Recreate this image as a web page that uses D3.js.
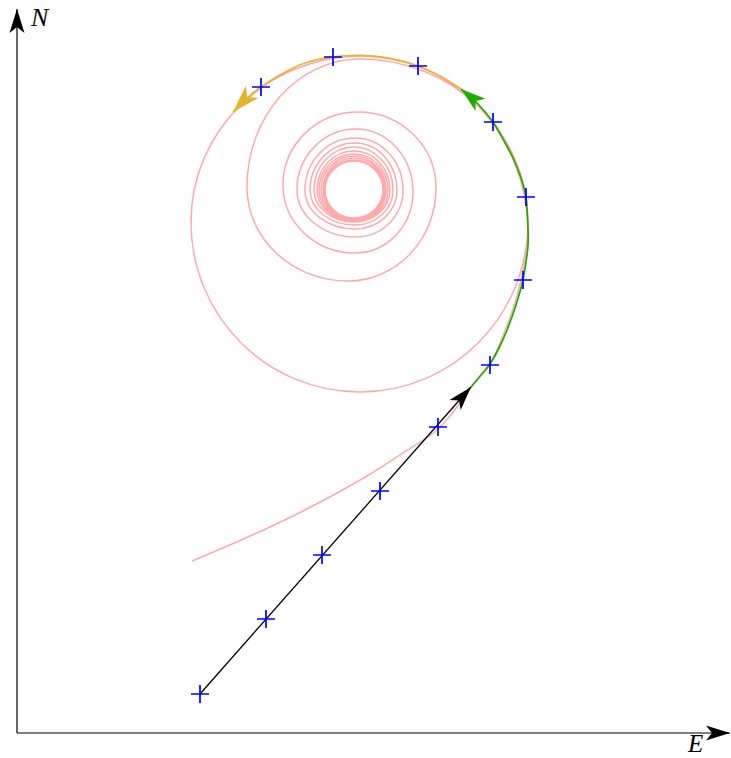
<!DOCTYPE html>
<html>
<head>
<meta charset="utf-8">
<script src="https://cdn.jsdelivr.net/npm/d3@7"></script>
<style>
  html, body { margin: 0; padding: 0; background: #fff; }
  svg { display: block; }
</style>
</head>
<body>
<div id="chart"></div>
<script>
// all positions in plot units: E east, N north (origin at axis corner)
const axisEnd = { E: 713, N: 724 };

const straightLeg = [[183, 39], [454, 346]];
const straightFixes = [[183, 39], [249, 114], [305, 178], [363, 242], [421, 306]];

const greenLeg = [[454, 346], [464, 358], [473, 369], [482, 385], [490, 403], [497, 422],
  [502, 438], [506, 453], [509, 471], [511, 488], [511, 506], [510, 523], [509, 536],
  [504, 555], [496, 575], [486, 594], [476, 611], [461, 629], [444, 644]];
const greenFixes = [[473, 368], [506, 453], [509, 536], [476, 611]];

const orangeLeg = [[444, 644], [423, 657], [401, 667], [373, 674.5], [345, 677.5], [316, 676],
  [288, 670], [263, 658], [244, 646], [228, 633], [216, 621]];
const orangeFixes = [[401, 667], [316, 676], [244, 646]];

// pink track: tail coming in, then the turns
const spiralTail = [[175, 172], [215, 189], [253, 206], [288, 223], [320, 240], [355, 260],
  [386, 280], [420, 303], [440, 326], [455, 347], [473, 369], [489, 405], [500, 437],
  [507, 468], [511, 501]];

// extremes of each quarter turn: right, top, left, bottom, right, ...
const spiralTurns = [
  [511, 501], [345, 677], [174, 511], [343, 341],
  [511, 511], [343, 674], [230, 546], [331, 452],
  [419, 545], [341, 621], [266, 548], [338, 480],
  [396, 541], [339, 604], [280, 543], [339, 496],
  [386, 543], [338, 595], [288, 543], [338, 504],
  [380, 543], [338, 590], [293, 543], [338, 508],
  [376, 543], [337, 586], [297, 543], [337, 511],
  [373, 543], [337, 582], [300, 543], [337, 512],
  [371, 543], [337, 579], [302, 543], [337, 513],
  [369, 543], [337, 577], [304, 543], [337, 514],
  [368, 543], [337, 575], [306, 543], [337, 514],
  [367, 543], [337, 573], [307, 543], [337, 515],
  [366, 543], [337, 572], [308, 543], [337, 515],
  [366, 543]
];

const width = 731, height = 758;

const svg = d3.select('#chart')
  .append('svg')
    .attr('width', width)
    .attr('height', height);

const x = d3.scaleLinear().domain([0, 714]).range([17, 731]);
const y = d3.scaleLinear().domain([0, 725]).range([733, 8]);

const defs = svg.append('defs');
function arrow(id, color, size) {
  const l = 24 * size, w = 7.5 * size, n = 18 * size;
  defs.append('marker')
    .attr('id', id)
    .attr('viewBox', (-l - 2) + ' ' + (-w - 2) + ' ' + (l + 4) + ' ' + (2 * w + 4))
    .attr('markerWidth', l + 4)
    .attr('markerHeight', 2 * w + 4)
    .attr('refX', 0)
    .attr('refY', 0)
    .attr('markerUnits', 'userSpaceOnUse')
    .attr('orient', 'auto')
    .append('path')
      .attr('d', 'M0,0 Q' + (-l / 2) + ',' + (-w / 2) + ' ' + (-l) + ',' + (-w) +
        ' L' + (-n) + ',0 L' + (-l) + ',' + w + ' Q' + (-l / 2) + ',' + (w / 2) + ' 0,0 Z')
      .attr('fill', color);
}
arrow('arrowBlack', '#000', 1);
arrow('arrowGreen', '#22aa00', 1.05);
arrow('arrowOrange', '#e3b52b', 1.15);

const line = d3.line().x(d => x(d[0])).y(d => y(d[1]));

// quarter-ellipse pieces between turn extremes
function turnsPath(pts) {
  const k = 0.5523;
  const P = pts.map(d => [x(d[0]), y(d[1])]);
  const p = d3.path();
  p.moveTo(P[0][0], P[0][1]);
  for (let i = 1; i < P.length; i++) {
    const a = P[i - 1], b = P[i];
    if ((i - 1) % 2 === 0) {
      p.bezierCurveTo(a[0], a[1] + k * (b[1] - a[1]), b[0] + k * (a[0] - b[0]), b[1], b[0], b[1]);
    } else {
      p.bezierCurveTo(a[0] + k * (b[0] - a[0]), a[1], b[0], b[1] + k * (a[1] - b[1]), b[0], b[1]);
    }
  }
  return p.toString();
}

svg.append('path')
  .datum(spiralTail)
  .attr('fill', 'none')
  .attr('stroke', '#ffaaaa')
  .attr('stroke-width', 1.5)
  .attr('d', line.curve(d3.curveCatmullRom.alpha(0.5)));

svg.append('path')
  .attr('fill', 'none')
  .attr('stroke', '#ffaaaa')
  .attr('stroke-width', 1.5)
  .attr('d', turnsPath(spiralTurns));

// axes
svg.append('line')
  .attr('x1', x(0)).attr('y1', y(0))
  .attr('x2', x(axisEnd.E)).attr('y2', y(0))
  .attr('stroke', '#000').attr('stroke-width', 1.2)
  .attr('marker-end', 'url(#arrowBlack)');
svg.append('line')
  .attr('x1', x(0)).attr('y1', y(0))
  .attr('x2', x(0)).attr('y2', y(axisEnd.N))
  .attr('stroke', '#000').attr('stroke-width', 1.2)
  .attr('marker-end', 'url(#arrowBlack)');

svg.append('text')
  .attr('x', 31).attr('y', 26)
  .style('font-family', '"Liberation Serif", "DejaVu Serif", serif')
  .style('font-style', 'italic')
  .style('font-size', '26px')
  .text('N');
svg.append('text')
  .attr('x', 688).attr('y', 752)
  .style('font-family', '"Liberation Serif", "DejaVu Serif", serif')
  .style('font-style', 'italic')
  .style('font-size', '25px')
  .text('E');

// legs
svg.append('path')
  .datum(straightLeg)
  .attr('fill', 'none')
  .attr('stroke', '#000')
  .attr('stroke-width', 1.3)
  .attr('marker-end', 'url(#arrowBlack)')
  .attr('d', line.curve(d3.curveLinear));

svg.append('path')
  .datum(greenLeg)
  .attr('fill', 'none')
  .attr('stroke', '#22aa00')
  .attr('stroke-width', 1.7)
  .attr('marker-end', 'url(#arrowGreen)')
  .attr('d', line.curve(d3.curveCatmullRom.alpha(0.5)));

svg.append('path')
  .datum(orangeLeg)
  .attr('fill', 'none')
  .attr('stroke', '#e8b43a')
  .attr('stroke-width', 1.8)
  .attr('marker-end', 'url(#arrowOrange)')
  .attr('d', line.curve(d3.curveCatmullRom.alpha(0.5)));

// fixes
const fixes = straightFixes.concat(greenFixes, orangeFixes);
const s = 9;
svg.append('g')
  .selectAll('path.fix')
  .data(fixes)
  .enter()
  .append('path')
    .attr('class', 'fix')
    .attr('d', d => 'M' + (x(d[0]) - s) + ',' + y(d[1]) + 'h' + (2 * s) +
      'M' + x(d[0]) + ',' + (y(d[1]) - s) + 'v' + (2 * s))
    .attr('stroke', '#0000ff')
    .attr('stroke-width', 1.7)
    .attr('fill', 'none');
</script>
</body>
</html>
